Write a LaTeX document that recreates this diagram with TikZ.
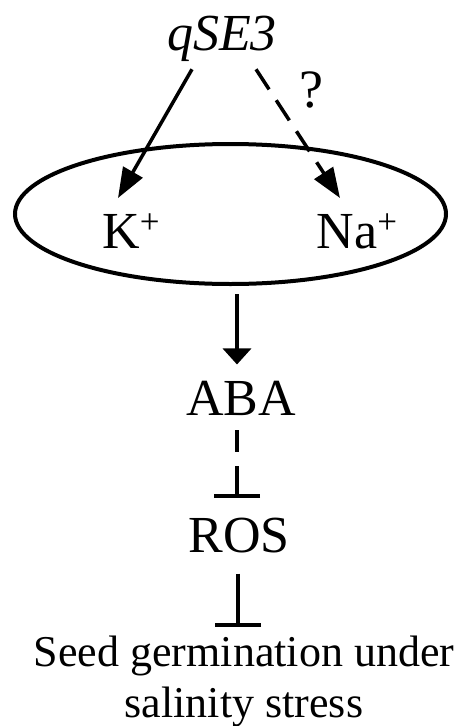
\documentclass[tikz,border=0pt]{standalone}
\usepackage{fontspec}
\setmainfont{Liberation Serif}
\usetikzlibrary{arrows.meta,shapes.geometric}
\newcommand{\plussup}{\raisebox{15pt}{\fontsize{35}{35}\selectfont +}}
\begin{document}
\begin{tikzpicture}[x=1pt,y=-1pt,
  lbl/.style={inner sep=0pt, anchor=base, font=\fontsize{52}{60}\selectfont},
  diag/.style={line width=3.5pt, -{Triangle[length=30pt,width=22pt]}},
  down/.style={line width=3.5pt, -{Triangle[length=16pt,width=28pt]}},
  inhib/.style={line width=3.5pt, -{Bar[width=46pt,line width=4pt]}},
  dsh/.style={dash pattern=on 24pt off 13pt}]
\useasboundingbox (0,0) rectangle (470,726);
\node[lbl] (q) at (222,50) {\itshape qSE3};
\node[lbl, font=\fontsize{54}{60}\selectfont] (qm) at (311,107) {?};
\node[draw, ellipse, line width=4pt, minimum width=431pt, minimum height=140pt, inner sep=0pt] (ell) at (230.5,214) {};
\node[lbl] (K) at (131,248) {K\plussup};
\node[lbl] (Na) at (357,248) {Na\plussup};
\node[lbl] (ABA) at (241,415) {ABA};
\node[lbl] (ROS) at (239,552) {ROS};
\node[inner sep=0pt, anchor=north, align=center, font=\fontsize{44}{51}\selectfont] (seed) at (244,636) {Seed germination under\\salinity stress};
\draw[diag] ([xshift=-30pt,yshift=-8pt]q.south) -- ([xshift=-13pt,yshift=15pt]K.north);
\draw[diag, dsh] ([xshift=34pt,yshift=-8pt]q.south) -- ([xshift=-17pt,yshift=15pt]Na.north);
\draw[down] ([xshift=6.5pt,yshift=-8pt]ell.south) -- ([xshift=-4pt,yshift=16pt]ABA.north);
\draw[inhib, dash pattern=on 22pt off 14pt on 30pt off 14pt] ([xshift=-4pt,yshift=-15pt]ABA.south) -- ([xshift=-2pt,yshift=19pt]ROS.north);
\draw[inhib] ([xshift=-1pt,yshift=-21pt]ROS.south) -- ([xshift=-6pt,yshift=9pt]seed.north);
\end{tikzpicture}
\end{document}
